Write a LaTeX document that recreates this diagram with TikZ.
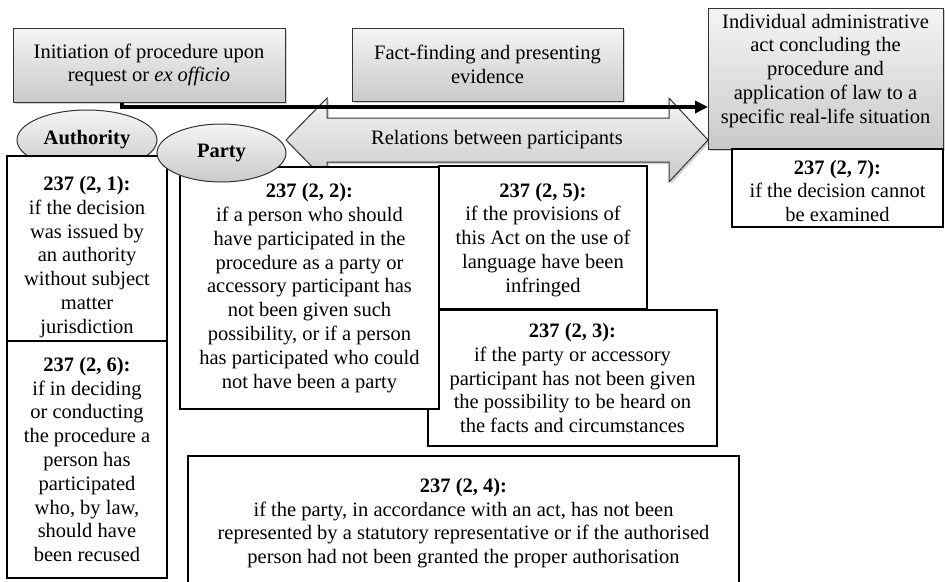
\documentclass[tikz,border=0pt]{standalone}
\usepackage{fontspec}
\setmainfont{Liberation Serif}
\usetikzlibrary{shapes.geometric,shadows,arrows.meta}
\begin{document}
\begin{tikzpicture}[x=1pt,y=-1pt,
  every node/.style={font=\fontsize{20.5}{23.8}\selectfont, align=center, inner sep=0pt},
  graybox/.style 2 args={rectangle, draw=black!80, line width=1pt, top color=gray!8, bottom color=gray!42,
     minimum width=#1, minimum height=#2, drop shadow={opacity=0.35, shadow xshift=2pt, shadow yshift=-2pt}},
  grayell/.style 2 args={ellipse, draw=black!80, line width=1pt, top color=gray!8, bottom color=gray!42,
     minimum width=#1, minimum height=#2, font=\fontsize{20.5}{23.8}\selectfont\bfseries},
  textbox/.style 2 args={rectangle, draw=black, line width=1.5pt, fill=white,
     minimum width=#1, minimum height=#2},
  conn/.style={line width=3.5pt, -{Triangle[length=13pt,width=12pt]}},
  relarrow/.style={draw=black!80, line width=1pt, top color=gray!8, bottom color=gray!42,
     drop shadow={opacity=0.35, shadow xshift=2pt, shadow yshift=-2pt}}
]
\useasboundingbox (0,0) rectangle (945,581);
\fill[white] (0,0) rectangle (945,581);

% double arrow: relations between participants
\path[relarrow] (286,140) -- (327,98) -- (327,118) -- (669,118) -- (669,98) -- (708,140)
   -- (669,182) -- (669,162) -- (327,162) -- (327,182) -- cycle;
\node (rel) at (497,140) {Relations between participants};

% top stage boxes
\node[graybox={272pt}{74pt}] (b1) at (149,65) {Initiation of procedure upon\\request or \textit{ex officio}};
\node[graybox={271pt}{73pt}] (b2) at (487.5,64.5) {Fact-finding and presenting\\evidence};
\node[graybox={235pt}{141pt}] (b3) at (825.5,78.5) {Individual administrative\\act concluding the\\procedure and\\application of law to a\\specific real-life situation\rule[-20pt]{0pt}{1pt}};

% authority
\node[grayell={140pt}{60pt}] (auth) at (87,140) {Authority};
\node[textbox={160pt}{202pt}] (r21) at (87,257) {\textbf{237 (2, 1):}\\if the decision\\was issued by\\an authority\\without subject\\matter\\jurisdiction};
\node[textbox={160pt}{237pt}] (r26) at (87,459.5) {\textbf{237 (2, 6):}\\if in deciding\\or conducting\\the procedure a\\person has\\participated\\who, by law,\\should have\\been recused};

% party
\node[textbox={289pt}{136pt}] (r23) at (572.5,378) {\textbf{237 (2, 3):}\\if the party or accessory\\participant has not been given\\the possibility to be heard on\\the facts and circumstances};
\node[textbox={259pt}{242pt}] (r22) at (309.5,288) {\textbf{237 (2, 2):}\\if a person who should\\have participated in the\\procedure as a party or\\accessory participant has\\not been given such\\possibility, or if a person\\has participated who could\\not have been a party};
\node[textbox={208pt}{143pt}] (r25) at (543,237.5) {\rule{0pt}{19pt}\textbf{237 (2, 5):}\\if the provisions of\\this Act on the use of\\language have been\\infringed};
\node[grayell={129pt}{58pt}] (party) at (221.5,153) {Party};

% decision
\node[textbox={211pt}{78pt}] (r27) at (837.5,188) {\rule{0pt}{20pt}\textbf{237 (2, 7):}\\if the decision cannot\\be examined};

\node[textbox={551pt}{134pt}] (r24) at (463.5,523) {\textbf{237 (2, 4):}\\if the party, in accordance with an act, has not been\\represented by a statutory representative or if the authorised\\person had not been granted the proper authorisation};

% flow connector
\coordinate (ctip) at (708,107);
\draw[conn] ([xshift=-27pt]b1.south) |- (ctip);
\end{tikzpicture}
\end{document}
